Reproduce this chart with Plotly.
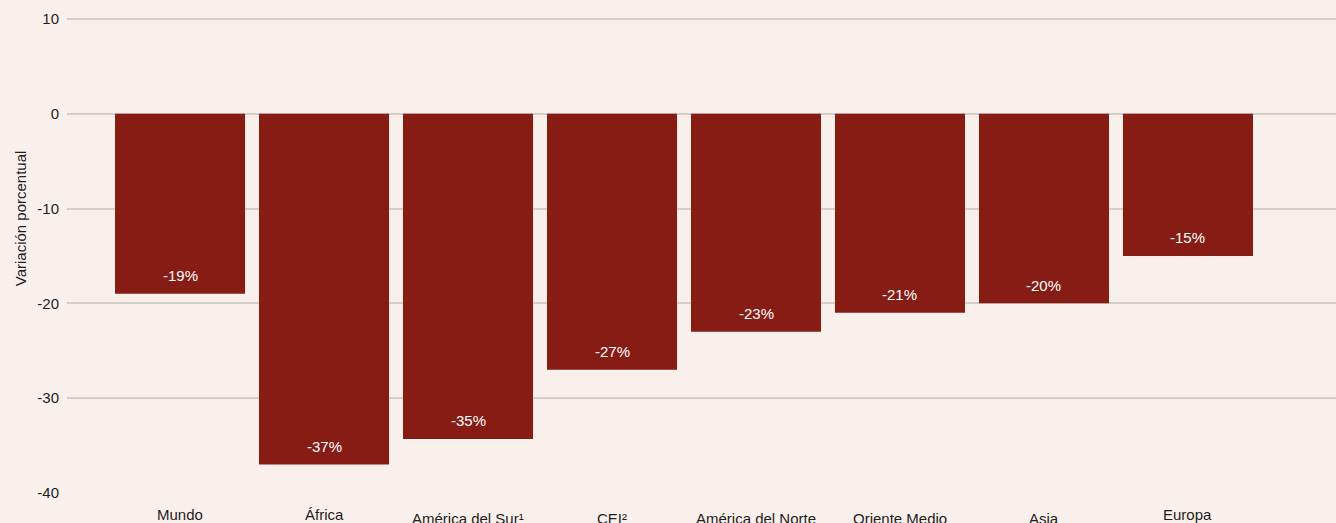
import plotly.graph_objects as go

regiones = ["Mundo", "África", "América del Sur¹", "CEI²", "América del Norte",
            "Oriente Medio", "Asia", "Europa"]
variacion = [-19.0, -37.0, -34.3, -27.0, -23.0, -21.0, -20.0, -15.0]
etiquetas = ["-19%", "-37%", "-35%", "-27%", "-23%", "-21%", "-20%", "-15%"]
ticks_y = [-40, -30, -20, -10, 0, 10]
ticks_y_txt = ["-40", "-30", "-20", "-10", "0", "10"]

fondo = "#FAF0EB"
rojo = "#861C14"
rejilla = "#D4CDC8"
fuente = "Liberation Sans"
texto = "#1E1E1E"

# estas etiquetas del eje x aparecen un poco mas arriba en el original
mas_arriba = {"Mundo", "África", "Europa"}

fig = go.Figure(go.Bar(
    x=list(range(len(regiones))), y=variacion,
    marker=dict(color=rojo, line=dict(width=0)),
    width=0.903, hoverinfo="skip",
))

for i, (v, t) in enumerate(zip(variacion, etiquetas)):
    fig.add_annotation(x=i, y=v, text=t, showarrow=False, yanchor="middle",
                       yshift=18, font=dict(color="white", size=15, family=fuente))

for i, r in enumerate(regiones):
    fig.add_annotation(x=i, xref="x", y=0, yref="paper", text=r, showarrow=False,
                       yanchor="top", yshift=-11 if r in mas_arriba else -15,
                       font=dict(size=15, family=fuente, color=texto))

# titulo del eje y (no centrado en el eje en el original)
fig.add_annotation(x=0, xref="paper", xanchor="center", xshift=-47,
                   y=0.576, yref="paper", yanchor="middle",
                   text="Variación porcentual", textangle=-90, showarrow=False,
                   font=dict(size=15, family=fuente, color=texto))

fig.update_layout(
    width=1336, height=523,
    paper_bgcolor=fondo, plot_bgcolor=fondo,
    margin=dict(l=67, r=0, t=16, b=30),
    font=dict(family=fuente, color=texto),
    showlegend=False,
    xaxis=dict(
        range=[-0.785, 8.028], showticklabels=False,
        showgrid=False, zeroline=False, showline=False, ticks="",
    ),
    yaxis=dict(
        range=[-40, 10.3], tickvals=ticks_y, ticktext=ticks_y_txt,
        showgrid=True, gridcolor=rejilla, gridwidth=1.5,
        zeroline=True, zerolinecolor=rejilla, zerolinewidth=1.5,
        tickfont=dict(size=15), ticklabelstandoff=7,
    ),
)

fig.write_html("out.html", config={"displayModeBar": False},
               post_script="document.body.style.margin='0';")
